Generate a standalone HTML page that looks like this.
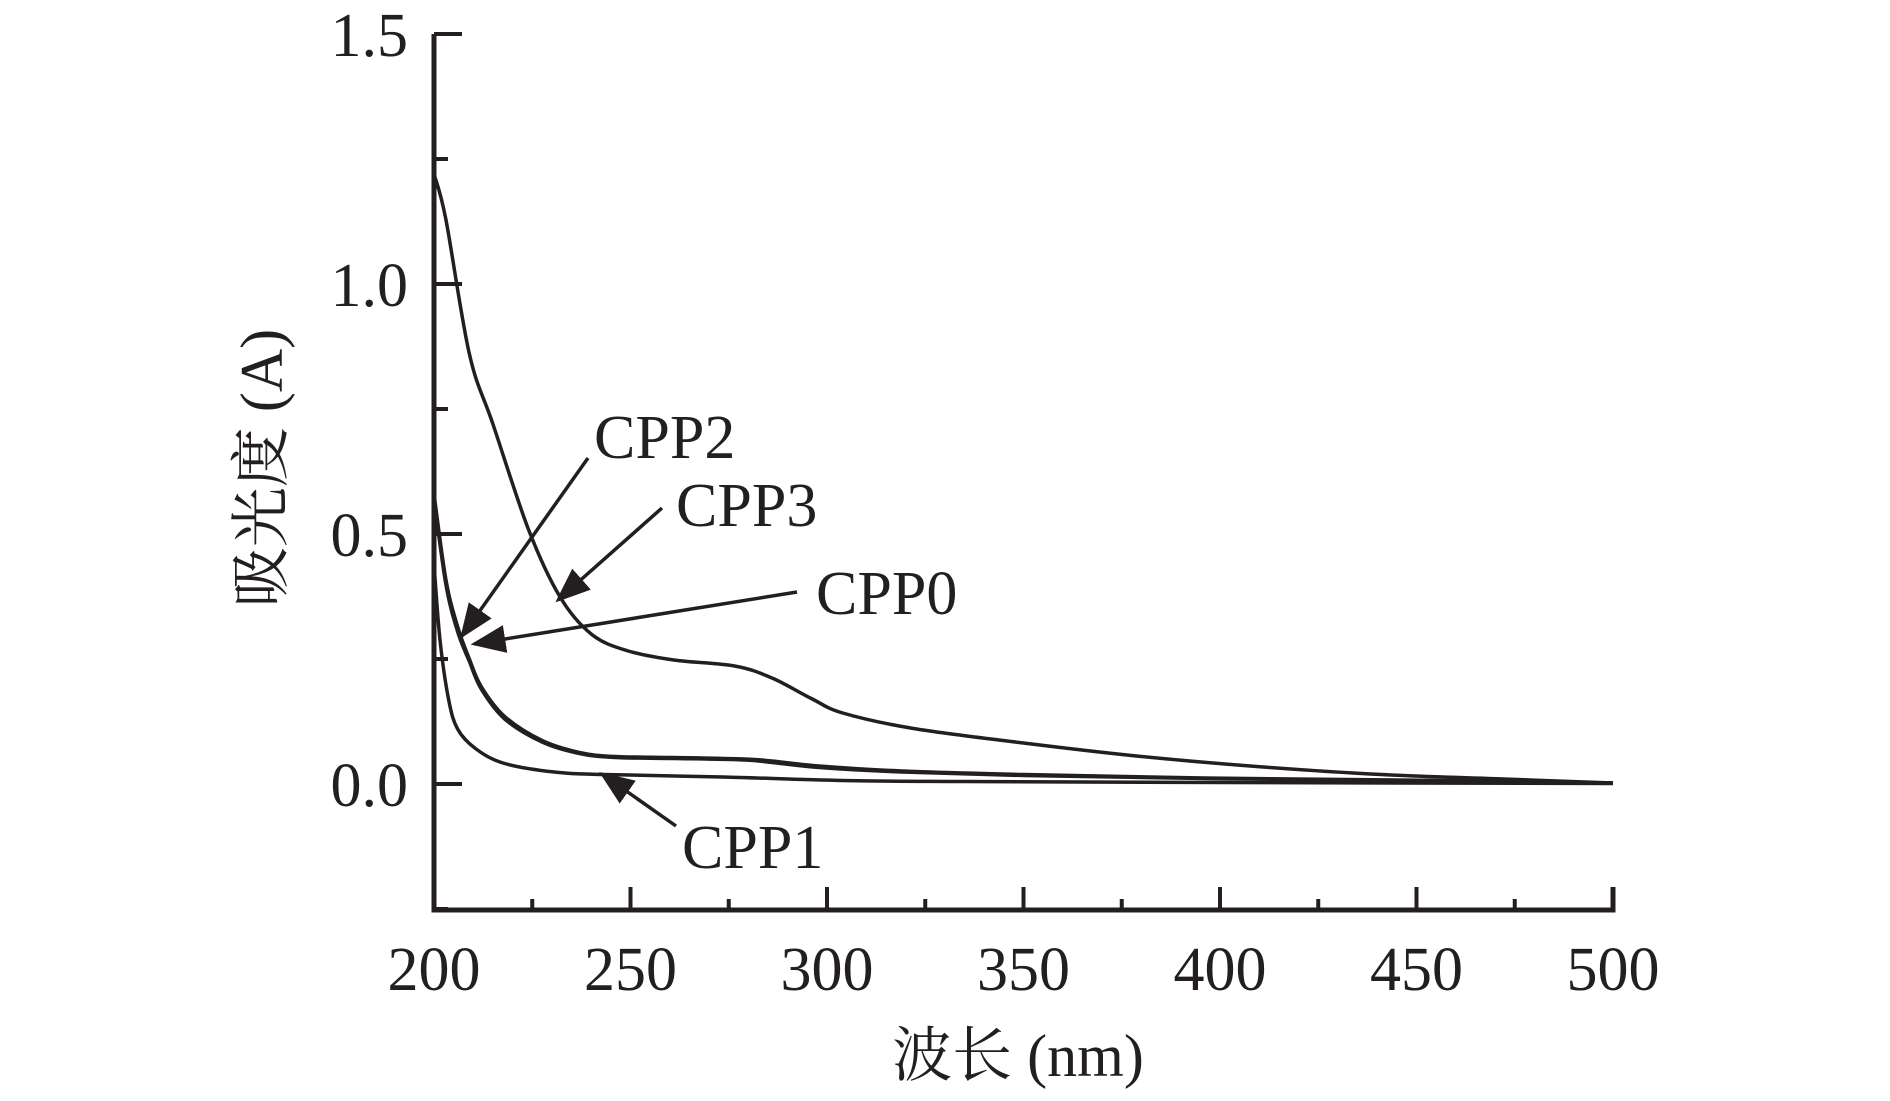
<!DOCTYPE html>
<html><head><meta charset="utf-8"><style>
body{margin:0;background:#fff}
svg{display:block}
text{font-family:"Liberation Serif","Noto Serif CJK SC",serif;fill:#231f20}
</style></head><body>
<svg id="chart" width="1890" height="1101" viewBox="0 0 1890 1101" xmlns="http://www.w3.org/2000/svg">
<defs><marker id="ah" markerWidth="10" markerHeight="8" refX="9" refY="4" orient="auto" markerUnits="strokeWidth"><path d="M0,0 L10,4 L0,8 Z" fill="#231f20"/></marker></defs>
<g id="axes"></g><g id="series"></g><g id="annot"></g>
</svg>
<script>
const xTicks=[200,250,300,350,400,450,500];
const yTicks=[0.0,0.5,1.0,1.5];
const yTickLabels=["0.0","0.5","1.0","1.5"];
const cpp0X=[200,203,209,215,224,232,240,249,261,276.5,286,296,304,322,350,380,411,441,472,500];
const cpp0Y=[1.22,1.13,0.86,0.72,0.51,0.375,0.30,0.267,0.248,0.236,0.212,0.171,0.142,0.111,0.082,0.055,0.034,0.019,0.010,0.002];
const cpp2X=[200,203,206,209,212,218,227.5,237,246,261,279,286,298,319,350,396,457,500];
const cpp2Y=[0.58,0.41,0.315,0.25,0.195,0.135,0.087,0.063,0.055,0.053,0.050,0.046,0.036,0.026,0.019,0.012,0.007,0.002];
const cpp3Y=[0.57,0.40,0.305,0.245,0.19,0.13,0.084,0.061,0.053,0.051,0.048,0.043,0.033,0.024,0.017,0.011,0.006,0.002];
const cpp1X=[200,201.5,203.7,206,210.7,218,230.6,243,273.5,304,335,400,500];
const cpp1Y=[0.44,0.29,0.17,0.11,0.07,0.041,0.024,0.019,0.014,0.007,0.005,0.003,0.001];
const NS="http://www.w3.org/2000/svg";
const X0=434,X1=1613,Y0=784,Y1=34,YB=910;
const sx=v=>X0+(v-200)*(X1-X0)/300;
const sy=v=>Y0-(v)*(Y0-Y1)/1.5;
function mk(tag,attrs,parent){const e=document.createElementNS(NS,tag);for(const k in attrs)e.setAttribute(k,attrs[k]);parent.appendChild(e);return e;}
const ax=document.getElementById('axes');
let a=mk('path',{d:`M${X0},${Y1} L${X0},${YB} L${X1},${YB} L${X1},${YB-23}`,fill:'none',stroke:'#231f20','stroke-width':5},ax);


xTicks.forEach((v,i)=>{
  const t=mk('line',{x1:sx(v),x2:sx(v),y1:YB,y2:YB-23,stroke:'#231f20','stroke-width':4},ax);
  
  
  if(i<xTicks.length-1){const m=mk('line',{x1:sx(v+25),x2:sx(v+25),y1:YB,y2:YB-11,stroke:'#231f20','stroke-width':4},ax);
  
  }
  const l=mk('text',{x:sx(v),y:990,'font-size':62,'text-anchor':'middle'},ax);l.textContent=v;
  
  
});
yTicks.forEach((v,i)=>{
  const t=mk('line',{x1:X0,x2:X0+28,y1:sy(v),y2:sy(v),stroke:'#231f20','stroke-width':4},ax);
  
  
  const m=mk('line',{x1:X0,x2:X0+14,y1:sy(v-0.25),y2:sy(v-0.25),stroke:'#231f20','stroke-width':4},ax);
  
  
  const l=mk('text',{x:408,y:sy(v)+22,'font-size':62,'text-anchor':'end'},ax);l.textContent=yTickLabels[i];
  
  
});
let xt=mk('text',{x:1018,y:1076,'font-size':60,'text-anchor':'middle'},ax);xt.textContent='波长 (nm)';


let yt=mk('text',{x:0,y:0,'font-size':60,'text-anchor':'middle',transform:'translate(282,468) rotate(-90)'},ax);yt.textContent='吸光度 (A)';


const sg=document.getElementById('series');
function line(xs,ys,name){
  const P=xs.map((x,i)=>[sx(x),sy(ys[i])]);
  let d='M'+P[0][0].toFixed(1)+','+P[0][1].toFixed(1);
  for(let i=0;i<P.length-1;i++){
    const p0=P[Math.max(0,i-1)],p1=P[i],p2=P[i+1],p3=P[Math.min(P.length-1,i+2)];
    const c1=[p1[0]+(p2[0]-p0[0])/6,p1[1]+(p2[1]-p0[1])/6];
    const c2=[p2[0]-(p3[0]-p1[0])/6,p2[1]-(p3[1]-p1[1])/6];
    d+=` C${c1[0].toFixed(1)},${c1[1].toFixed(1)} ${c2[0].toFixed(1)},${c2[1].toFixed(1)} ${p2[0].toFixed(1)},${p2[1].toFixed(1)}`;
  }
  const p=mk('path',{d:d,fill:'none',stroke:'#231f20','stroke-width':3.5,'stroke-linejoin':'round'},sg);
  
  }
line(cpp0X,cpp0Y,'cpp0-line');
line(cpp2X,cpp2Y,'cpp2-line');
line(cpp2X,cpp3Y,'cpp3-line');
line(cpp1X,cpp1Y,'cpp1-line');
const an=document.getElementById('annot');
function ann(txt,tx,ty,x1,y1,x2,y2,name){
  const l=mk('line',{x1:x1,y1:y1,x2:x2,y2:y2,stroke:'#231f20','stroke-width':3.5,'marker-end':'url(#ah)'},an);
  
  
  const t=mk('text',{x:tx,y:ty,'font-size':62},an);t.textContent=txt;
  
  }
ann('CPP2',594,458,588,458,462,636,'cpp2');
ann('CPP3',676,526,662,508,558,600,'cpp3');
ann('CPP0',816,614,797,592,474,644,'cpp0');
ann('CPP1',682,868,676,826,602,774,'cpp1');
</script>
</body></html>
